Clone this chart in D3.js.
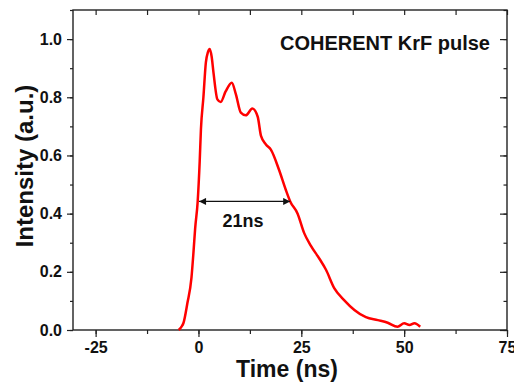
<!DOCTYPE html>
<html>
<head>
<meta charset="utf-8">
<script src="https://d3js.org/d3.v7.min.js"></script>
<style>
  body { margin: 0; background: #fff; }
  svg { display: block; font-family: "Liberation Sans", Arial, sans-serif; font-weight: bold; }
</style>
</head>
<body>
<div id="chart"></div>
<script>
// pulse shape (time in ns, normalised intensity)
var times = [-4.8, -4.2, -3.65, -2.7, -1.7, -1.2, -0.8, -0.2, 0.3, 0.6, 1.2, 1.8, 2.3, 2.75, 3.2, 3.65, 4.6, 5.4, 6.6, 8.1, 9.1, 10.3, 11.5, 13.1, 14.4, 15.2, 16.4, 17.6, 19.6, 21.2, 22.3, 24.1, 25.7, 27.3, 29.4, 31.0, 33.0, 35.4, 37.9, 40.7, 43.6, 46.0, 48.4, 50.0, 51.3, 52.5, 53.9];
var intensity = [0.0, 0.01, 0.024, 0.092, 0.18, 0.27, 0.35, 0.44, 0.58, 0.69, 0.80, 0.92, 0.955, 0.966, 0.94, 0.885, 0.793, 0.784, 0.82, 0.85, 0.81, 0.747, 0.738, 0.761, 0.733, 0.667, 0.638, 0.62, 0.55, 0.483, 0.442, 0.40, 0.333, 0.29, 0.245, 0.207, 0.144, 0.103, 0.069, 0.044, 0.034, 0.025, 0.011, 0.023, 0.017, 0.023, 0.011];
var xTicks = [-25, 0, 25, 50, 75];
var yTicks = [0, 0.2, 0.4, 0.6, 0.8, 1.0];
var fwhm = [-0.1, 22.3, 0.442];   // arrow start, end, level
var fwhmLabel = "21ns";
var title = "COHERENT KrF pulse";

var width = 514, height = 388;
var margin = { left: 73, right: 7, top: 10, bottom: 58 };

var svg = d3.select('#chart').append('svg')
    .attr('width', width)
    .attr('height', height);

var x = d3.scaleLinear().domain([-30.5, 75]).range([margin.left, width - margin.right]);
var y = d3.scaleLinear().domain([0, 1.1]).range([height - margin.bottom, margin.top]);

var minorX = d3.range(-25, 76, 12.5);
var minorY = d3.range(0, 1.101, 0.1);

// bottom axis (outward ticks)
var gBottom = svg.append('g')
    .attr('transform', 'translate(0,' + (height - margin.bottom) + ')');
gBottom.append('g').call(d3.axisBottom(x).tickValues(minorX).tickSize(4).tickFormat(''));
gBottom.append('g').call(d3.axisBottom(x).tickValues(xTicks).tickSize(7).tickPadding(5)
    .tickFormat(function (d) { return String(d); }));

// left axis (outward ticks)
var gLeft = svg.append('g')
    .attr('transform', 'translate(' + margin.left + ',0)');
gLeft.append('g').call(d3.axisLeft(y).tickValues(minorY).tickSize(3).tickFormat(''));
gLeft.append('g').call(d3.axisLeft(y).tickValues(yTicks).tickSize(6).tickPadding(5).tickFormat(d3.format('.1f')));

// top and right mirror ticks (inward)
var gTop = svg.append('g')
    .attr('transform', 'translate(0,' + margin.top + ')');
gTop.append('g').call(d3.axisTop(x).tickValues(minorX).tickSize(-5).tickFormat(''));
var gRight = svg.append('g')
    .attr('transform', 'translate(' + (width - margin.right) + ',0)');
gRight.append('g').call(d3.axisRight(y).tickValues(minorY).tickSize(-3.5).tickFormat(''));
gRight.append('g').call(d3.axisRight(y).tickValues(yTicks).tickSize(-7).tickFormat(''));

svg.selectAll('.domain').remove();
svg.selectAll('.tick line').attr('stroke', '#222').attr('stroke-width', 1.2);
svg.selectAll('.tick text')
    .style('font-size', '16px')
    .style('font-weight', 'bold')
    .style('font-family', '"Liberation Sans", Arial, sans-serif')
    .attr('fill', '#111');

// frame
svg.append('rect')
    .attr('x', margin.left)
    .attr('y', margin.top)
    .attr('width', width - margin.left - margin.right)
    .attr('height', height - margin.top - margin.bottom)
    .attr('fill', 'none')
    .attr('stroke', '#222')
    .attr('stroke-width', 1.4);

// pulse
var pts = times.map(function (t, i) { return [t, intensity[i]]; });
svg.append('path')
    .datum(pts)
    .attr('fill', 'none')
    .attr('stroke', '#ff0000')
    .attr('stroke-width', 2.5)
    .attr('stroke-linejoin', 'round')
    .attr('d', d3.line()
        .x(function (d) { return x(d[0]); })
        .y(function (d) { return y(d[1]); })
        .curve(d3.curveMonotoneX));

// FWHM arrow
svg.append('defs').append('marker')
    .attr('id', 'head')
    .attr('viewBox', '0 0 10 10')
    .attr('refX', 10).attr('refY', 5)
    .attr('markerWidth', 9).attr('markerHeight', 7)
    .attr('markerUnits', 'userSpaceOnUse')
    .attr('orient', 'auto-start-reverse')
    .append('path')
    .attr('d', 'M0,0L10,5L0,10Z')
    .attr('fill', '#111');
svg.append('line')
    .attr('x1', x(fwhm[0]) + 1).attr('x2', x(fwhm[1]))
    .attr('y1', y(fwhm[2])).attr('y2', y(fwhm[2]))
    .attr('stroke', '#111')
    .attr('stroke-width', 1.2)
    .attr('marker-start', 'url(#head)')
    .attr('marker-end', 'url(#head)');
svg.append('text')
    .attr('x', 243)
    .attr('y', 227)
    .attr('text-anchor', 'middle')
    .attr('font-size', 18)
    .attr('fill', '#111')
    .text(fwhmLabel);

// title
svg.append('text')
    .attr('x', 490)
    .attr('y', 50)
    .attr('text-anchor', 'end')
    .attr('font-size', 20)
    .attr('fill', '#111')
    .text(title);

// axis labels
svg.append('text')
    .attr('x', 287)
    .attr('y', 377)
    .attr('text-anchor', 'middle')
    .attr('font-size', 23)
    .attr('fill', '#111')
    .text('Time (ns)');
svg.append('text')
    .attr('transform', 'translate(33,166) rotate(-90)')
    .attr('text-anchor', 'middle')
    .attr('font-size', 24)
    .attr('fill', '#111')
    .text('Intensity (a.u.)');
</script>
</body>
</html>
